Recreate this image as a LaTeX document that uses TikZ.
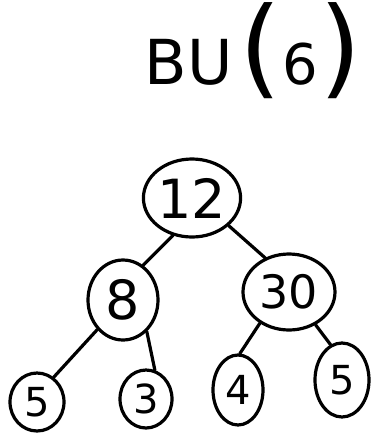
\documentclass[tikz,border=0pt]{standalone}
\usepackage{fontspec}
\setmainfont{DejaVu Sans}
\usetikzlibrary{shapes.geometric}
\begin{document}
\begin{tikzpicture}[x=1pt,y=-1pt,
  ink/.style={line width=3.2pt, line cap=round, line join=round},
  bubble/.style={ink, draw, ellipse, inner sep=0pt},
  big/.style={font=\fontsize{54}{54}\selectfont},
  mid/.style={font=\fontsize{46}{46}\selectfont},
  small/.style={font=\fontsize{40}{40}\selectfont}]
\useasboundingbox (0,0) rectangle (373,440);
\fill[white] (0,0) rectangle (373,440);
\node[anchor=base west, inner sep=0pt, font=\fontsize{62}{62}\selectfont] (title) at (144,84)
  {B\hspace{1pt}U\hspace{6pt}{\fontsize{108}{108}\selectfont(}\hspace{1pt}{\fontsize{56}{56}\selectfont 6}\hspace{2pt}{\fontsize{108}{108}\selectfont)}};
\node[bubble, big, minimum width=90pt, minimum height=78pt] (n12) at (192,198) {12};
\node[bubble, big, minimum width=70pt, minimum height=80pt] (n8) at (123,300) {8};
\node[bubble, mid, minimum width=92pt, minimum height=76pt] (n30) at (289,292) {30};
\node[bubble, small, minimum width=54pt, minimum height=58pt] (l5) at (37,402) {5};
\node[bubble, small, minimum width=52pt, minimum height=58pt] (l3) at (146,399) {3};
\node[bubble, small, minimum width=50pt, minimum height=70pt] (l4) at (238,390) {4};
\node[bubble, small, minimum width=54pt, minimum height=74pt] (r5) at (342,380) {5};
\draw[ink] (n12.243) -- (n8.60);
\draw[ink] (n12.323) -- (n30.125);
\draw[ink] (n8.229) -- (l5.56);
\draw[ink] (n8.307) -- (l3.73);
\draw[ink] (n30.227) -- (l4.87);
\draw[ink] (n30.309) -- (r5.108);
\end{tikzpicture}
\end{document}
